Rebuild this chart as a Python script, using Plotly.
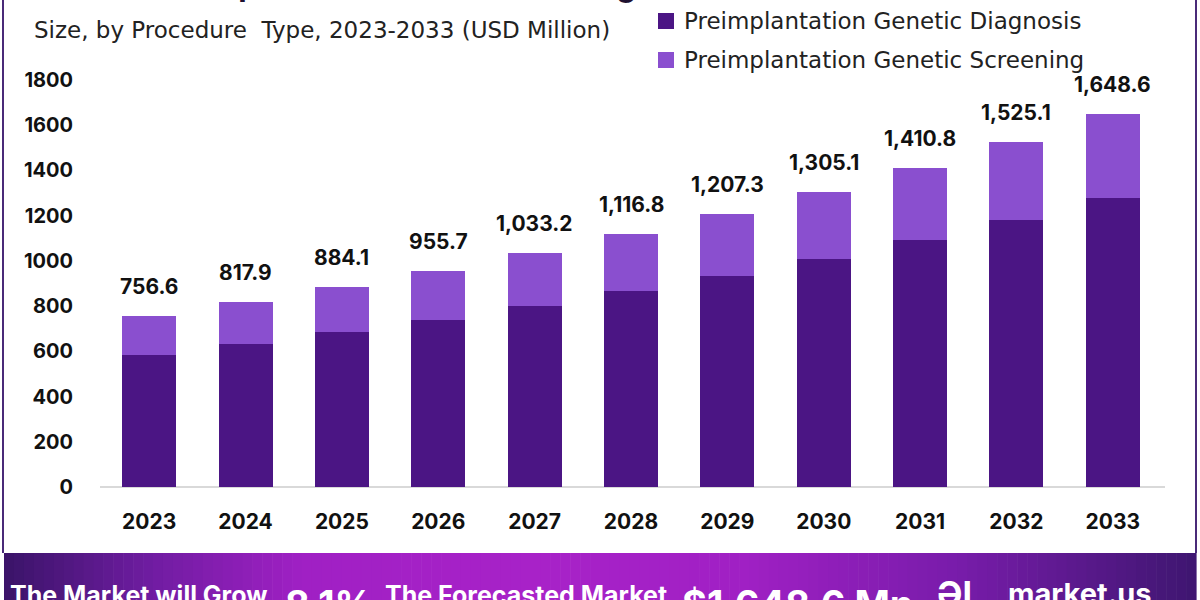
import plotly.graph_objects as go

years = ["2023", "2024", "2025", "2026", "2027", "2028", "2029", "2030", "2031", "2032", "2033"]
totals = [756.6, 817.9, 884.1, 955.7, 1033.2, 1116.8, 1207.3, 1305.1, 1410.8, 1525.1, 1648.6]
pgd = [584, 632, 685, 738, 800, 866, 933, 1008, 1092, 1180, 1278]
pgs = [round(t - d, 1) for t, d in zip(totals, pgd)]
total_labels = ["756.6", "817.9", "884.1", "955.7", "1,033.2", "1,116.8", "1,207.3", "1,305.1", "1,410.8", "1,525.1", "1,648.6"]
y_ticks = [0, 200, 400, 600, 800, 1000, 1200, 1400, 1600, 1800]
series_names = ["Preimplantation Genetic Diagnosis", "Preimplantation Genetic Screening"]

W, H = 1200, 600
L, R, T, B = 101, 1161, 80, 487


def px(x):
    return (x - L) / (R - L)


def py(y):
    return (B - y) / (B - T)


NUMFONT = "Inter, Lato, sans-serif"
TXTFONT = "DejaVu Sans, sans-serif"
DARK = "#4b1584"
LIGHT = "#8a4fcf"
colors = [DARK, LIGHT]

fig = go.Figure()
fig.add_trace(go.Bar(x=years, y=pgd, name=series_names[0], marker=dict(color=DARK, line=dict(width=0))))
fig.add_trace(go.Bar(x=years, y=pgs, name=series_names[1], marker=dict(color=LIGHT, line=dict(width=0))))

annotations = []
for i, (tot, lab) in enumerate(zip(totals, total_labels)):
    annotations.append(dict(x=i, y=tot, text=lab, showarrow=False,
                            yanchor="bottom", yshift=15,
                            font=dict(family=NUMFONT, size=21, color="#111111", weight="bold")))

# subtitle
annotations.append(dict(xref="paper", yref="paper", x=px(32), y=py(30), xanchor="left", yanchor="middle",
                        text="Size, by Procedure  Type, 2023-2033 (USD Million)", showarrow=False,
                        font=dict(family=TXTFONT, size=23, color="#222222")))
# cut-off title (only descenders visible)
annotations.append(dict(xref="paper", yref="paper", x=px(45), y=py(5), xanchor="left", yanchor="bottom",
                        text="Global Preimplantation Genetic Testing Market", showarrow=False,
                        font=dict(family=NUMFONT, size=31, color="#1e1030", weight="bold")))

shapes = []
# manual legend
for i, (nm, c) in enumerate(zip(series_names, colors)):
    yc = 21 + 39 * i
    shapes.append(dict(type="rect", xref="paper", yref="paper", x0=px(658), x1=px(674),
                       y0=py(yc + 8), y1=py(yc - 8), fillcolor=c, line=dict(width=0)))
    annotations.append(dict(xref="paper", yref="paper", x=px(682), y=py(yc), xanchor="left", yanchor="middle",
                            text=nm, showarrow=False, font=dict(family=TXTFONT, size=23, color="#222222")))

# banner texts
bt = [
    (8, "The Market will Grow", 25, 612),
    (283, "8.1%", 38, 629),
    (383, "The Forecasted Market", 25, 612),
    (680, "$1,648.6 Mn", 38, 629),
    (1006, "market.us", 29, 613),
]
for x0, txt, sz, yb in bt:
    annotations.append(dict(xref="paper", yref="paper", x=px(x0), y=py(yb), xanchor="left", yanchor="bottom",
                            text=txt, showarrow=False,
                            font=dict(family=NUMFONT, size=sz, color="white", weight="bold")))
annotations.append(dict(xref="paper", yref="paper", x=px(935), y=py(616), xanchor="left", yanchor="bottom",
                        text="ƏI", showarrow=False, font=dict(family=NUMFONT, size=34, color="white", weight="bold")))

# gradient banner
stops = [(0.0, (58, 20, 104)), (0.12, (110, 28, 160)), (0.25, (160, 32, 196)), (0.45, (168, 34, 200)),
         (0.62, (160, 32, 196)), (0.8, (120, 28, 170)), (1.0, (62, 22, 112))]


def col(t):
    for (a, ca), (b, cb) in zip(stops[:-1], stops[1:]):
        if a <= t <= b:
            f = (t - a) / (b - a)
            c = [round(ca[k] + (cb[k] - ca[k]) * f) for k in range(3)]
            return f"rgb({c[0]},{c[1]},{c[2]})"
    return "rgb(62,22,112)"


N = 120
x0b, x1b = 4, 1196
for i in range(N):
    xa = x0b + (x1b - x0b) * i / N
    xb = x0b + (x1b - x0b) * (i + 1) / N + 0.6
    shapes.append(dict(type="rect", xref="paper", yref="paper", x0=px(xa), x1=px(xb), y0=py(600), y1=py(553),
                       fillcolor=col((i + 0.5) / N), line=dict(width=0), layer="below"))
# frame lines
for xl in (3, 1196):
    shapes.append(dict(type="line", xref="paper", yref="paper", x0=px(xl), x1=px(xl), y0=py(0), y1=py(553),
                       line=dict(color="#4a2a78", width=2)))
# baseline axis line
shapes.append(dict(type="line", xref="paper", yref="paper", x0=px(100), x1=px(1165), y0=py(487), y1=py(487),
                   line=dict(color="#cccccc", width=1.5), layer="below"))

fig.update_layout(
    width=W, height=H,
    margin=dict(l=L, r=W - R, t=T, b=H - B, pad=0, autoexpand=False),
    paper_bgcolor="white", plot_bgcolor="white",
    barmode="stack", bargap=0.44,
    showlegend=False,
    xaxis=dict(type="category", range=[-0.5, 10.5], showgrid=False, zeroline=False, showline=False, ticks="",
               automargin=False,
               tickfont=dict(family=NUMFONT, size=21, color="#111111", weight="bold"), ticklabelstandoff=20),
    yaxis=dict(range=[0, 1800], tickvals=y_ticks, showgrid=False, zeroline=False, showline=False, ticks="",
               automargin=False,
               tickfont=dict(family=NUMFONT, size=20, color="#111111", weight="bold"), ticklabelstandoff=27),
    annotations=annotations,
    shapes=shapes,
)

fig.write_html("out.html", config={"displayModeBar": False},
               post_script="document.body.style.margin='0';document.body.style.overflow='hidden';")
